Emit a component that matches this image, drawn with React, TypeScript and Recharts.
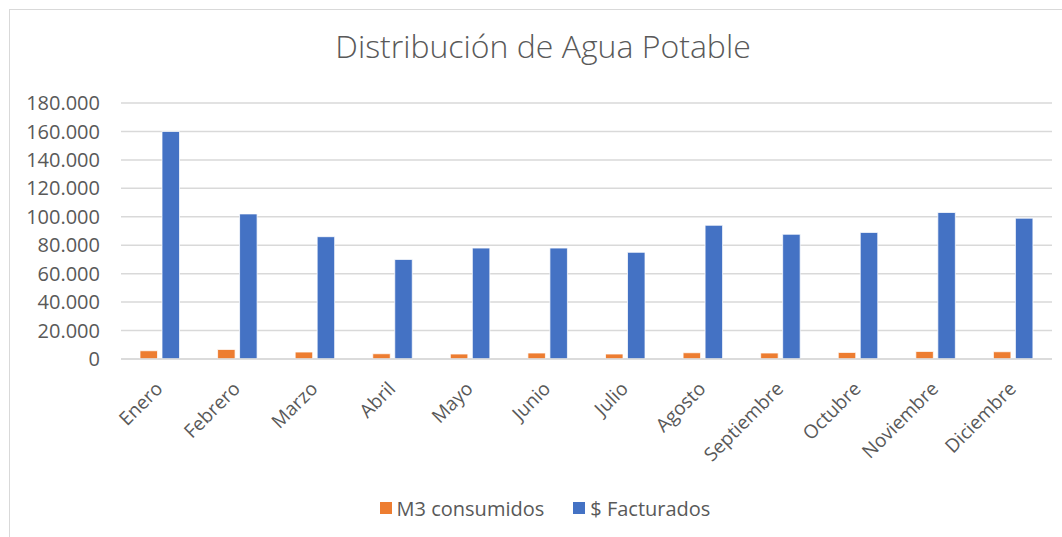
import React from "react";
import { BarChart, Bar, XAxis, YAxis, CartesianGrid, Legend } from "recharts";

const months = [
  "Enero", "Febrero", "Marzo", "Abril", "Mayo", "Junio",
  "Julio", "Agosto", "Septiembre", "Octubre", "Noviembre", "Diciembre",
];
const m3Consumidos = [5800, 6700, 4900, 3700, 3500, 4200, 3500, 4400, 4200, 4600, 5300, 5100];
const facturados = [160000, 102000, 86000, 70000, 78000, 78000, 75000, 94000, 87700, 89000, 103000, 99000];
const yTicks = [0, 20000, 40000, 60000, 80000, 100000, 120000, 140000, 160000, 180000];

const title = "Distribución de Agua Potable";
const seriesNames = ["M3 consumidos", "$ Facturados"];
const seriesColors = ["#ED7D31", "#4472C4"];

const data = months.map((m, i) => ({
  month: m,
  m3: m3Consumidos[i],
  fact: facturados[i],
}));

const FONT = "'Open Sans', 'DejaVu Sans', sans-serif";
const TEXT = "#595959";

const fmt = (v: number) =>
  v === 0 ? "0" : String(v).replace(/\B(?=(\d{3})+(?!\d))/g, ".");

const XTick = (props: any) => {
  const { x, y, payload } = props;
  const ax = x + 4;
  const ay = y + 31;
  return (
    <text
      x={ax}
      y={ay}
      textAnchor="end"
      fill={TEXT}
      fontSize={19}
      fontFamily={FONT}
      transform={`rotate(-45 ${ax} ${ay})`}
    >
      {payload.value}
    </text>
  );
};

const LegendContent = () => (
  <div
    style={{
      display: "flex",
      justifyContent: "center",
      alignItems: "center",
      height: 24,
      paddingLeft: 28,
      fontFamily: FONT,
      fontSize: 20,
      color: TEXT,
    }}
  >
    {seriesNames.map((n, i) => (
      <div key={n} style={{ display: "flex", alignItems: "center", marginRight: i === 0 ? 29 : 0 }}>
        <span style={{ display: "inline-block", width: 12, height: 12, background: seriesColors[i], marginRight: 5 }} />
        <span>{n}</span>
      </div>
    ))}
  </div>
);

export default function App() {
  return (
    <div style={{ position: "absolute", left: 0, top: 0, width: 1062, height: 537, background: "#fff", overflow: "hidden" }}>
      <div
        style={{
          position: "absolute",
          left: 9,
          top: 9,
          width: 1070,
          height: 560,
          border: "1px solid #d9d9d9",
          boxSizing: "border-box",
        }}
      />
      <div
        style={{
          position: "absolute",
          left: 0,
          top: 24,
          width: 1086,
          textAlign: "center",
          fontFamily: FONT,
          fontWeight: 300,
          fontSize: 32,
          color: TEXT,
          lineHeight: "44px",
        }}
      >
        {title}
      </div>
      <div style={{ position: "absolute", left: 0, top: 0 }}>
        <BarChart
          width={1062}
          height={537}
          data={data}
          margin={{ top: 103, right: 10, left: 21, bottom: 44 }}
          barGap={4.5}
          barSize={17.5}
        >
          <CartesianGrid vertical={false} stroke="#d9d9d9" strokeWidth={1.5} />
          <XAxis
            dataKey="month"
            height={110}
            axisLine={{ stroke: "#d9d9d9", strokeWidth: 1.5 }}
            tickLine={false}
            tickSize={0}
            tickMargin={0}
            interval={0}
            tick={<XTick />}
          />
          <YAxis
            width={100}
            domain={[0, 180000]}
            ticks={yTicks}
            interval={0}
            axisLine={false}
            tickLine={false}
            tickSize={0}
            tickMargin={21}
            tickFormatter={fmt}
            tick={{ fill: TEXT, fontSize: 20, fontFamily: FONT }}
          />
          <Legend
            verticalAlign="bottom"
            content={<LegendContent />}
            wrapperStyle={{ top: 496, bottom: "auto", left: 0, width: 1062 }}
          />
          <Bar dataKey="m3" name={seriesNames[0]} fill={seriesColors[0]} stroke="#ffffff" strokeWidth={0.75} isAnimationActive={false} />
          <Bar dataKey="fact" name={seriesNames[1]} fill={seriesColors[1]} stroke="#ffffff" strokeWidth={0.75} isAnimationActive={false} />
        </BarChart>
      </div>
    </div>
  );
}
